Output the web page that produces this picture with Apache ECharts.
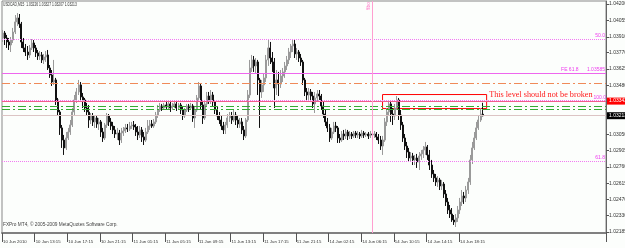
<!DOCTYPE html>
<html><head><meta charset="utf-8">
<script src="https://cdn.jsdelivr.net/npm/echarts@6/dist/echarts.min.js"></script>
<style>html,body{margin:0;padding:0;background:#fcfefc}#c{width:625px;height:248px}</style>
</head><body><div id="c"></div>
<script>
const symbolTitle = 'USDCAD,M15  1.03226 1.03327 1.03207 1.03213';
const copyright = 'FXPro MT4, \u00a9 2005-2009 MetaQuotes Software Corp.';
const tickLabels = ['10 Jun 2010','10 Jun 13:15','10 Jun 17:15','10 Jun 21:15','11 Jun 01:15','11 Jun 05:15','11 Jun 09:15','11 Jun 13:15','11 Jun 17:15','11 Jun 21:15','14 Jun 02:15','14 Jun 06:15','14 Jun 10:15','14 Jun 14:15','14 Jun 18:15'];
const priceTicks = [1.04200,1.04055,1.03910,1.03770,1.03625,1.03480,1.03050,1.02905,1.02760,1.02615,1.02470,1.02330,1.02185];

const opens = [
1.03900,1.03944,1.03900,1.03865,1.03838,1.03882,1.03953,1.04042,1.04077,1.04024,
1.03865,1.03812,1.03776,1.03750,1.03812,1.03856,1.03812,1.03768,1.03741,1.03750,
1.03706,1.03732,1.03750,1.03635,1.03573,1.03511,1.03529,1.03352,1.03246,1.03105,
1.02998,1.02928,1.03016,1.03069,1.03131,1.03246,1.03352,1.03423,1.03485,1.03379,
1.03352,1.03281,1.03246,1.03175,1.03211,1.03158,1.03193,1.03140,1.03158,1.03069,
1.03016,1.03131,1.03211,1.03158,1.03122,1.03087,1.03051,1.03060,1.02998,1.03060,
1.03078,1.03105,1.03096,1.03122,1.03131,1.03113,1.03069,1.03043,1.03087,1.03025,
1.02998,1.03069,1.03122,1.03140,1.03122,1.03158,1.03219,1.03264,1.03299,1.03281,
1.03308,1.03290,1.03317,1.03281,1.03299,1.03317,1.03281,1.03308,1.03264,1.03211,
1.03264,1.03299,1.03281,1.03299,1.03193,1.03264,1.03370,1.03476,1.03308,1.03193,
1.03317,1.03387,1.03352,1.03396,1.03334,1.03264,1.03211,1.03175,1.03122,1.03087,
1.03131,1.03193,1.03211,1.03175,1.03219,1.03175,1.03140,1.03158,1.03087,1.03034,
1.03175,1.03396,1.03635,1.03706,1.03653,1.03688,1.03529,1.03423,1.03485,1.03547,
1.03706,1.03812,1.03723,1.03688,1.03458,1.03529,1.03493,1.03564,1.03600,1.03653,
1.03706,1.03776,1.03829,1.03847,1.03759,1.03776,1.03723,1.03688,1.03529,1.03423,
1.03396,1.03423,1.03387,1.03317,1.03370,1.03405,1.03387,1.03299,1.03228,1.03158,
1.03105,1.03016,1.03069,1.03122,1.03105,1.03016,1.02998,1.03051,1.03034,1.03069,
1.03034,1.03051,1.03034,1.03060,1.03043,1.03051,1.03034,1.03060,1.03043,1.03051,
1.03034,1.03051,1.03043,1.03051,1.03025,1.02998,1.02945,1.02998,1.03158,1.03246,
1.03317,1.03228,1.03211,1.03281,1.03352,1.03219,1.03131,1.03016,1.02945,1.02892,
1.02839,1.02857,1.02822,1.02839,1.02804,1.02857,1.02875,1.02910,1.02937,1.02866,
1.02777,1.02698,1.02663,1.02627,1.02645,1.02592,1.02609,1.02521,1.02450,1.02380,
1.02344,1.02291,1.02274,1.02309,1.02380,1.02450,1.02503,1.02486,1.02556,1.02627,
1.02822,1.02928,1.03016,1.03105,1.03175,1.03226];
const closes = [
1.03944,1.03900,1.03865,1.03838,1.03882,1.03953,1.04042,1.04077,1.04024,1.03865,
1.03812,1.03776,1.03750,1.03812,1.03856,1.03812,1.03768,1.03741,1.03750,1.03706,
1.03732,1.03750,1.03635,1.03573,1.03511,1.03529,1.03352,1.03246,1.03105,1.02998,
1.02928,1.03016,1.03069,1.03131,1.03246,1.03352,1.03423,1.03485,1.03379,1.03352,
1.03281,1.03246,1.03175,1.03211,1.03158,1.03193,1.03140,1.03158,1.03069,1.03016,
1.03131,1.03211,1.03158,1.03122,1.03087,1.03051,1.03060,1.02998,1.03060,1.03078,
1.03105,1.03096,1.03122,1.03131,1.03113,1.03069,1.03043,1.03087,1.03025,1.02998,
1.03069,1.03122,1.03140,1.03122,1.03158,1.03219,1.03264,1.03299,1.03281,1.03308,
1.03290,1.03317,1.03281,1.03299,1.03317,1.03281,1.03308,1.03264,1.03211,1.03264,
1.03299,1.03281,1.03299,1.03193,1.03264,1.03370,1.03476,1.03308,1.03193,1.03317,
1.03387,1.03352,1.03396,1.03334,1.03264,1.03211,1.03175,1.03122,1.03087,1.03131,
1.03193,1.03211,1.03175,1.03219,1.03175,1.03140,1.03158,1.03087,1.03034,1.03175,
1.03396,1.03635,1.03706,1.03653,1.03688,1.03529,1.03423,1.03485,1.03547,1.03706,
1.03812,1.03723,1.03688,1.03458,1.03529,1.03493,1.03564,1.03600,1.03653,1.03706,
1.03776,1.03829,1.03847,1.03759,1.03776,1.03723,1.03688,1.03529,1.03423,1.03396,
1.03423,1.03387,1.03317,1.03370,1.03405,1.03387,1.03299,1.03228,1.03158,1.03105,
1.03016,1.03069,1.03122,1.03105,1.03016,1.02998,1.03051,1.03034,1.03069,1.03034,
1.03051,1.03034,1.03060,1.03043,1.03051,1.03034,1.03060,1.03043,1.03051,1.03034,
1.03051,1.03043,1.03051,1.03025,1.02998,1.02945,1.02998,1.03158,1.03246,1.03317,
1.03228,1.03211,1.03281,1.03352,1.03219,1.03131,1.03016,1.02945,1.02892,1.02839,
1.02857,1.02822,1.02839,1.02804,1.02857,1.02875,1.02910,1.02937,1.02866,1.02777,
1.02698,1.02663,1.02627,1.02645,1.02592,1.02609,1.02521,1.02450,1.02380,1.02344,
1.02291,1.02274,1.02309,1.02380,1.02450,1.02503,1.02486,1.02556,1.02627,1.02822,
1.02928,1.03016,1.03105,1.03175,1.03228,1.03213];
const highs = [
1.03971,1.03962,1.03927,1.03900,1.03909,1.03989,1.04103,1.04121,1.04112,1.04042,
1.03900,1.03847,1.03829,1.03838,1.03891,1.03882,1.03838,1.03794,1.03785,1.03776,
1.03759,1.03785,1.03794,1.03661,1.03617,1.03706,1.03547,1.03370,1.03264,1.03131,
1.03043,1.03069,1.03105,1.03175,1.03281,1.03396,1.03458,1.03529,1.03511,1.03414,
1.03370,1.03326,1.03308,1.03237,1.03237,1.03219,1.03211,1.03193,1.03175,1.03105,
1.03149,1.03237,1.03228,1.03193,1.03158,1.03122,1.03105,1.03087,1.03105,1.03113,
1.03140,1.03140,1.03158,1.03158,1.03166,1.03140,1.03122,1.03122,1.03113,1.03069,
1.03105,1.03175,1.03175,1.03175,1.03184,1.03246,1.03308,1.03326,1.03317,1.03326,
1.03334,1.03334,1.03334,1.03326,1.03343,1.03334,1.03326,1.03326,1.03299,1.03281,
1.03317,1.03317,1.03326,1.03317,1.03299,1.03396,1.03511,1.03493,1.03352,1.03352,
1.03423,1.03423,1.03440,1.03423,1.03352,1.03299,1.03246,1.03211,1.03158,1.03158,
1.03228,1.03246,1.03246,1.03264,1.03246,1.03219,1.03193,1.03193,1.03122,1.03193,
1.03440,1.03706,1.03750,1.03741,1.03723,1.03706,1.03547,1.03529,1.03582,1.03750,
1.03891,1.03865,1.03776,1.03723,1.03617,1.03600,1.03617,1.03635,1.03688,1.03741,
1.03812,1.03847,1.03882,1.03882,1.03812,1.03794,1.03759,1.03706,1.03547,1.03458,
1.03458,1.03449,1.03423,1.03423,1.03440,1.03440,1.03405,1.03334,1.03264,1.03193,
1.03140,1.03105,1.03158,1.03158,1.03122,1.03051,1.03078,1.03087,1.03096,1.03087,
1.03078,1.03069,1.03078,1.03078,1.03078,1.03069,1.03087,1.03078,1.03069,1.03069,
1.03078,1.03069,1.03078,1.03069,1.03051,1.03034,1.03034,1.03193,1.03281,1.03352,
1.03334,1.03281,1.03317,1.03387,1.03370,1.03264,1.03158,1.03051,1.02981,1.02928,
1.02892,1.02884,1.02866,1.02875,1.02892,1.02910,1.02945,1.02981,1.02954,1.02910,
1.02822,1.02733,1.02698,1.02680,1.02663,1.02645,1.02627,1.02556,1.02486,1.02424,
1.02397,1.02335,1.02344,1.02415,1.02486,1.02556,1.02539,1.02592,1.02663,1.02866,
1.02981,1.03069,1.03158,1.03211,1.03281,1.03327];
const lows = [
1.03865,1.03838,1.03812,1.03794,1.03776,1.03856,1.03935,1.04006,1.03989,1.03812,
1.03776,1.03741,1.03706,1.03723,1.03794,1.03776,1.03732,1.03706,1.03706,1.03679,
1.03670,1.03688,1.03617,1.03547,1.03476,1.03485,1.03308,1.03219,1.03043,1.02928,
1.02866,1.02910,1.02998,1.03043,1.03113,1.03219,1.03326,1.03396,1.03352,1.03281,
1.03246,1.03219,1.03105,1.03140,1.03122,1.03105,1.03105,1.03087,1.03025,1.02981,
1.02998,1.03105,1.03122,1.03087,1.03051,1.03016,1.02998,1.02954,1.02972,1.03034,
1.03060,1.03069,1.03078,1.03096,1.03087,1.03034,1.02998,1.03016,1.02981,1.02954,
1.02981,1.03051,1.03087,1.03105,1.03105,1.03140,1.03193,1.03246,1.03255,1.03264,
1.03264,1.03272,1.03246,1.03264,1.03281,1.03255,1.03264,1.03228,1.03175,1.03193,
1.03246,1.03246,1.03264,1.03158,1.03105,1.03246,1.03352,1.03264,1.03140,1.03175,
1.03299,1.03317,1.03317,1.03299,1.03228,1.03175,1.03140,1.03087,1.03051,1.03051,
1.03105,1.03158,1.03140,1.03158,1.03131,1.03105,1.03105,1.03051,1.02998,1.03016,
1.03158,1.03370,1.03600,1.03600,1.03582,1.03396,1.03105,1.03370,1.03423,1.03511,
1.03653,1.03670,1.03600,1.03281,1.03396,1.03387,1.03458,1.03511,1.03547,1.03617,
1.03670,1.03723,1.03776,1.03723,1.03706,1.03688,1.03653,1.03485,1.03387,1.03352,
1.03352,1.03352,1.03281,1.03237,1.03334,1.03352,1.03264,1.03193,1.03122,1.03069,
1.02981,1.02998,1.03051,1.03069,1.02972,1.02972,1.02981,1.02998,1.03007,1.02998,
1.03007,1.03007,1.03016,1.03016,1.03016,1.03007,1.03016,1.03016,1.03025,1.03007,
1.03016,1.03016,1.03016,1.02998,1.02963,1.02910,1.02866,1.02981,1.03122,1.03211,
1.03158,1.03131,1.03175,1.03264,1.03175,1.03087,1.02981,1.02910,1.02839,1.02804,
1.02804,1.02777,1.02777,1.02751,1.02733,1.02822,1.02839,1.02866,1.02822,1.02733,
1.02663,1.02627,1.02592,1.02583,1.02556,1.02556,1.02486,1.02415,1.02344,1.02309,
1.02274,1.02247,1.02229,1.02274,1.02344,1.02415,1.02433,1.02450,1.02521,1.02601,
1.02786,1.02910,1.02998,1.03087,1.03158,1.03207];

// horizontal levels (price) and annotations
const fibo50 = 1.03891, feLevel = 1.03585, orangeLevel = 1.03502, fibo100 = 1.03352;
const redLevel = 1.03342, greenLevel1 = 1.03299, greenLevel2 = 1.03272, bidLevel = 1.03213, fibo618 = 1.02813;
const orderText = '#14426349 buy\n#14426349 sell';
const vlineBar = 181;
const boxBars = [186, 237], boxPrices = [1.03400, 1.03276];
const boxText = 'This level should not be broken';
const slotCount = 296;

const cats = Array.from({length: slotCount}, (_, i) => String(i));
const candles = opens.map((o, i) => [o, closes[i], lows[i], highs[i]]);
const small = {fontFamily: 'Liberation Sans', fontSize: 5};
const mag = '#ee3cee';
const dotMag = '#f27af2';
const tickShown = (i) => i % 16 === 0 && i / 16 < tickLabels.length;

const chart = echarts.init(document.getElementById('c'), null, {renderer: 'canvas'});
chart.setOption({
  animation: false,
  backgroundColor: '#fcfefc',
  graphic: [
    {type: 'text', x: 3, y: 2, scaleX: 0.72, silent: true,
      style: {text: symbolTitle, fill: '#333', fontSize: 4.6, fontFamily: 'Liberation Sans'}},
    {type: 'text', x: 3, y: 222, scaleX: 0.95, silent: true,
      style: {text: copyright, fill: '#444', fontSize: 5, fontFamily: 'Liberation Sans'}}
  ],
  grid: {left: 2, right: 19, top: 1, height: 232, outerBoundsMode: 'none', containLabel: false,
    show: true, borderColor: '#888', borderWidth: 1, backgroundColor: 'transparent'},
  xAxis: {
    type: 'category', data: cats, boundaryGap: true,
    axisLine: {show: true, lineStyle: {color: '#808080', width: 2}},
    axisTick: {show: true, length: 9, lineStyle: {color: '#555'}, interval: tickShown},
    axisLabel: {show: true, color: '#333', align: 'left', margin: 7, fontFamily: 'Liberation Sans', fontSize: 4.3,
      interval: tickShown, hideOverlap: false,
      formatter: (v, i) => (i % 16 === 0 && tickLabels[i / 16]) ? tickLabels[i / 16] : ''},
    splitLine: {show: false}
  },
  yAxis: {
    type: 'value', position: 'right', min: 1.02176, max: 1.04227,
    axisLine: {show: true, lineStyle: {color: '#666'}},
    axisTick: {show: true, length: 3, customValues: priceTicks, lineStyle: {color: '#555'}},
    axisLabel: Object.assign({show: true, color: '#333', margin: 3, customValues: priceTicks, hideOverlap: false,
      formatter: (v) => v.toFixed(5)}, small),
    splitLine: {show: false}
  },
  series: [{
    type: 'candlestick',
    data: candles,
    barWidth: 1.5,
    itemStyle: {color: '#9a9a9a', color0: '#111', borderColor: '#9a9a9a', borderColor0: '#111', borderWidth: 1}
  }, {
    type: 'line', data: [], silent: true,
    markLine: {
      silent: true, symbol: ['none', 'none'], animation: false, precision: 5,
      data: [
        {yAxis: fibo50, lineStyle: {color: dotMag, type: [1, 1], width: 1},
          label: Object.assign({show: true, position: 'insideEndTop', distance: 1, color: mag, formatter: '50.0'}, small)},
        {yAxis: feLevel, lineStyle: {color: '#ee66ee', type: 'solid', width: 1},
          label: Object.assign({show: true, position: 'insideEndTop', distance: 1, color: mag, formatter: 'FE 61.8      ' + feLevel.toFixed(5)}, small)},
        {yAxis: orangeLevel, lineStyle: {color: '#f08a58', type: [8, 3, 2, 3], width: 1}, label: {show: false}},
        {yAxis: fibo100, lineStyle: {color: dotMag, type: [1, 1], width: 1},
          label: Object.assign({show: true, position: 'insideEndTop', distance: 0, color: mag, formatter: '100.0'}, small)},
        {yAxis: redLevel, lineStyle: {color: '#f25c8c', type: 'solid', width: 1},
          label: Object.assign({show: true, position: 'end', distance: 1, color: '#fff', backgroundColor: '#ff0000', padding: [1, 2, 1, 2], formatter: redLevel.toFixed(5)}, small)},
        {yAxis: greenLevel1, lineStyle: {color: '#33aa33', type: [8, 3, 2, 3], width: 1}, label: {show: false}},
        {yAxis: greenLevel2, lineStyle: {color: '#33aa33', type: [8, 3, 2, 3], width: 1}, label: {show: false}},
        {yAxis: bidLevel, lineStyle: {color: '#dcc4c4', type: 'solid', width: 1},
          label: Object.assign({show: true, position: 'end', distance: 1, color: '#fff', backgroundColor: '#000', padding: [1, 2, 1, 2], formatter: bidLevel.toFixed(5)}, small)},
        {yAxis: fibo618, lineStyle: {color: dotMag, type: [1, 1], width: 1},
          label: Object.assign({show: true, position: 'insideEndTop', distance: 1, color: mag, formatter: '61.8'}, small)},
        {xAxis: vlineBar, lineStyle: {color: '#ff9fd0', type: 'solid', width: 1},
          label: Object.assign({show: true, position: 'insideEndTop', distance: 1, color: '#ff77c8', formatter: 'fibo'}, small)},
        {yAxis: redLevel, lineStyle: {opacity: 0},
          label: {show: true, position: 'insideStart', distance: 0, offset: [0, 3], color: '#555', fontFamily: 'Liberation Sans', fontSize: 4.5, lineHeight: 3.8, formatter: orderText}}
      ]
    },
    markArea: {
      silent: true,
      itemStyle: {color: 'rgba(0,0,0,0)', borderColor: '#ff0000', borderWidth: 1},
      label: {show: true, position: ['100%', 0], offset: [2, -3], color: '#ff1a1a', fontFamily: 'Liberation Serif', fontSize: 8.2, formatter: boxText},
      data: [[{xAxis: boxBars[0], yAxis: boxPrices[0]}, {xAxis: boxBars[1], yAxis: boxPrices[1]}]]
    }
  }]
});
</script></body></html>
